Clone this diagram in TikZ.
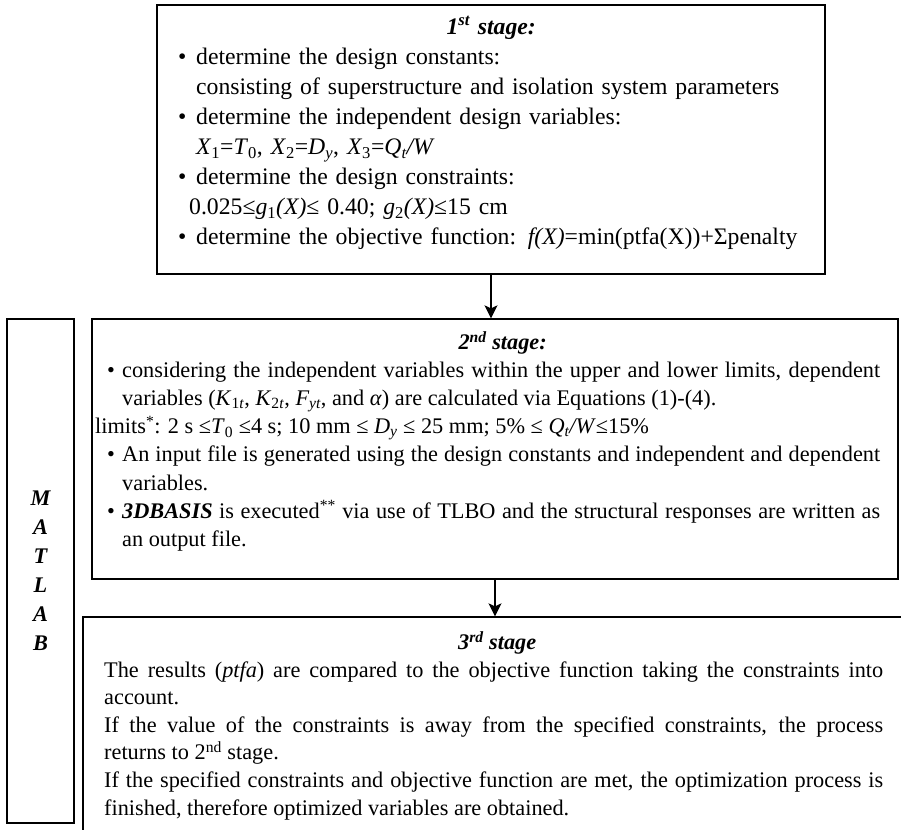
\documentclass[tikz,border=0pt]{standalone}
\usepackage{fontspec}
\setmainfont{Liberation Serif}
\usetikzlibrary{arrows.meta}

\newcommand{\lo}[1]{\textsubscript{#1}}
\newcommand{\stagetitle}[2][0pt]{\noindent\makebox[\hsize]{\hspace*{#1}\rule{0pt}{18pt}\textbf{\textit{#2}}}\par}
\newcommand{\bulletline}[2]{\par\noindent\hangindent=#2\hangafter=1\makebox[#2][l]{\hspace*{#1}\textbullet}}

\tikzset{
  stagebox/.style={draw, line width=1.3pt, inner sep=0pt},
  stagetext/.style 2 args={inner sep=0pt, anchor=north west, font={\fontsize{#1}{#2}\selectfont},
    execute at begin node={\parindent=0pt}},
  flowarrow/.style={-{Stealth[length=13pt, width=13pt, inset=3pt]}, line width=1.6pt},
}

\begin{document}
\begin{tikzpicture}[x=1pt, y=-1pt]
\useasboundingbox (0,0) rectangle (901,829);
\clip (0,0) rectangle (901,829);
% frames
\node[stagebox, minimum width=668, minimum height=269] (stage1) at (491,139.5) {};
\node[stagebox, minimum width=806, minimum height=260] (stage2) at (495,449) {};
\node[stagebox, minimum width=822, minimum height=228] (stage3) at (494,731) {};
\node[stagebox, minimum width=67, minimum height=504, align=center,
  font={\fontsize{22.3}{29}\selectfont\bfseries\itshape}] (matlab) at (40.5,571) {M\\A\\T\\L\\A\\B};

% 1st stage
\node[stagetext={23.7}{30}, text width=642, align=left] (stage1text) at (170,16) {%
\stagetitle{1\textsuperscript{st} stage:}
\bulletline{8pt}{26pt}determine the design constants:\newline
consisting of superstructure and isolation system parameters
\bulletline{8pt}{26pt}determine the independent design variables:\newline
\textit{X}\lo{1}=\textit{T}\lo{0}, \textit{X}\lo{2}=\textit{D\lo{y}}, \textit{X}\lo{3}=\textit{Q\lo{t}/W}
\bulletline{8pt}{26pt}determine the design constraints:\newline
\hspace*{-7pt}0.025≤\textit{g}\lo{1}\textit{(X)}≤ 0.40; \textit{g}\lo{2}\textit{(X)}≤15 cm
\bulletline{8pt}{26pt}determine the objective function: \textit{f(X)}=min(ptfa(X))+Σpenalty\par};

% 2nd stage
\node[stagetext={22.3}{28.1}, text width=785, align=justify] (stage2text) at (95,331) {%
\stagetitle[30pt]{2\textsuperscript{nd} stage:}
\bulletline{12pt}{27pt}considering the independent variables within the upper and lower limits, dependent\linebreak
variables (\textit{K}\lo{1\textit{t}}, \textit{K}\lo{2\textit{t}}, \textit{F\lo{yt}}, and \textit{α}) are calculated via Equations (1)-(4).\par
limits\textsuperscript{*}: 2 s ≤\textit{T}\lo{0} ≤4 s; 10 mm ≤ \textit{D\lo{y}} ≤ 25 mm; 5\% ≤ \textit{Q\lo{t}/W}≤15\%
\bulletline{12pt}{27pt}An input file is generated using the design constants and independent and dependent\linebreak
variables.
\bulletline{12pt}{27pt}\textbf{\textit{3DBASIS}} is executed\textsuperscript{**} via use of TLBO and the structural responses are written as\linebreak
an output file.\par};

% 3rd stage
\node[stagetext={22.3}{27.6}, text width=779, align=justify] (stage3text) at (104,631) {%
\stagetitle[7pt]{3\textsuperscript{rd} stage}
The results (\textit{ptfa}) are compared to the objective function taking the constraints into\linebreak
account.\par
If the value of the constraints is away from the specified constraints, the process\linebreak
returns to 2\textsuperscript{nd} stage.\par
If the specified constraints and objective function are met, the optimization process is\linebreak
finished, therefore optimized variables are obtained.\par};

\draw[flowarrow] (stage1.south) -- (stage1.south |- stage2.north);
\draw[flowarrow] (stage2.south) -- (stage2.south |- stage3.north);
\end{tikzpicture}
\end{document}
